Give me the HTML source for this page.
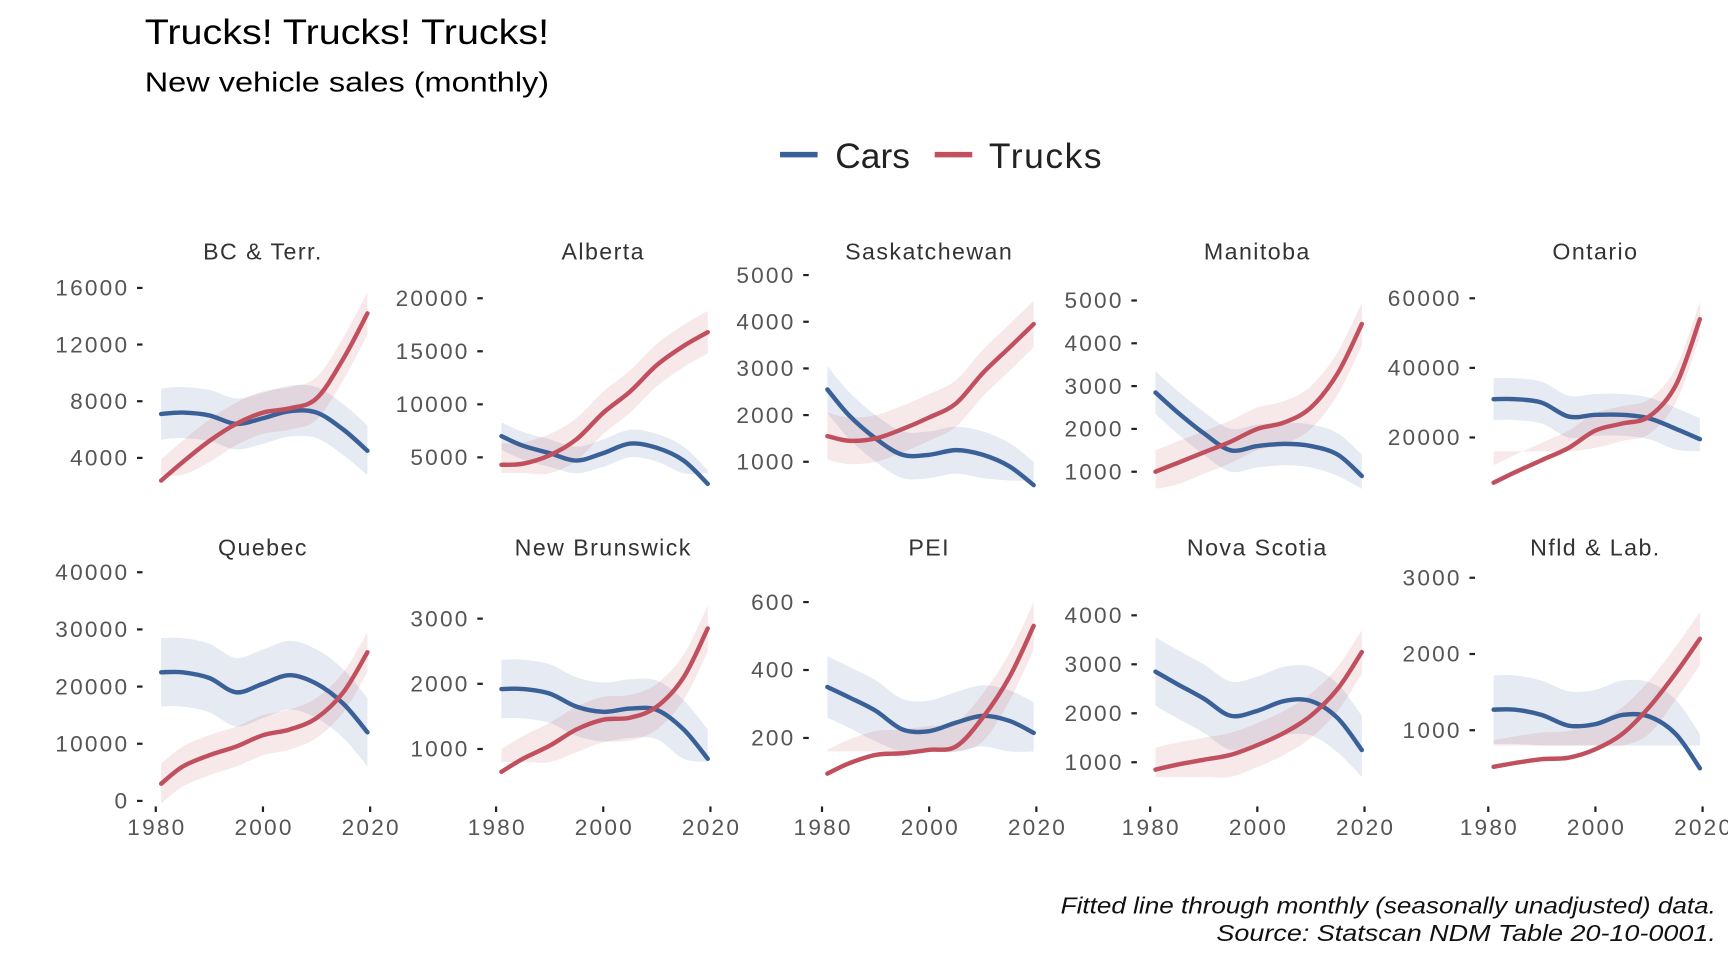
<!DOCTYPE html>
<html><head><meta charset="utf-8"><style>
html,body{margin:0;padding:0;background:#fff;}
svg{display:block;font-family:"Liberation Sans",sans-serif;}
</style></head><body>
<svg id="chart" width="1728" height="960" viewBox="0 0 1564 869" preserveAspectRatio="none" xmlns="http://www.w3.org/2000/svg">
<text x="131" y="40" font-size="32" fill="#000" textLength="366" lengthAdjust="spacingAndGlyphs">Trucks! Trucks! Trucks!</text>
<text x="131" y="83" font-size="25" fill="#000" textLength="366" lengthAdjust="spacingAndGlyphs">New vehicle sales (monthly)</text>
<g>
<g><line x1="706" y1="140" x2="740" y2="140" stroke="#3a6098" stroke-width="5"/><text x="756" y="152" font-size="32" fill="#222">Cars</text></g>
<g><line x1="846" y1="140" x2="880" y2="140" stroke="#c1505f" stroke-width="5"/><text x="895" y="152" font-size="32" fill="#222" textLength="102">Trucks</text></g>
</g>
<text x="1553" y="827" font-size="21" font-style="italic" text-anchor="end" fill="#111" textLength="593" lengthAdjust="spacingAndGlyphs">Fitted line through monthly (seasonally unadjusted) data.</text>
<text x="1553" y="852" font-size="21" font-style="italic" text-anchor="end" fill="#111" textLength="452" lengthAdjust="spacingAndGlyphs">Source: Statscan NDM Table 20-10-0001.</text>
<g id="panels"></g>
</svg>
<script>
const years = [1981,1985,1990,1995,2000,2005,2010,2015,2019.5];
const panelNames = ["BC & Terr.","Alberta","Saskatchewan","Manitoba","Ontario","Quebec","New Brunswick","PEI","Nova Scotia","Nfld & Lab."];
const carsValues = [
 [7100,7200,7000,6400,6800,7300,7200,6000,4500],
 [7000,6100,5400,4700,5400,6300,5900,4700,2500],
 [2550,2000,1500,1150,1150,1250,1150,900,500],
 [2850,2400,1900,1500,1600,1650,1600,1400,900],
 [31000,31000,30000,26000,26500,26500,25500,22500,19500],
 [22500,22500,21500,19000,20500,22000,20500,17000,12000],
 [1920,1920,1850,1650,1570,1620,1600,1300,850],
 [350,320,280,225,220,245,265,250,215],
 [2850,2600,2300,1950,2050,2250,2250,1900,1250],
 [1270,1270,1200,1060,1080,1200,1180,950,500]];
const trucksValues = [
 [2400,3700,5200,6400,7200,7500,8200,11000,14200],
 [4300,4400,5200,6700,9200,11200,13700,15500,16800],
 [1550,1450,1500,1700,1950,2250,2900,3450,3950],
 [1000,1200,1450,1700,2000,2150,2500,3300,4450],
 [7000,10000,13500,17000,22000,24000,26000,35000,54000],
 [3000,6000,8000,9500,11500,12500,14500,19000,26000],
 [650,850,1050,1300,1450,1480,1650,2100,2850],
 [95,125,150,155,165,175,260,380,530],
 [850,950,1050,1150,1350,1600,1950,2500,3250],
 [520,570,620,640,750,950,1300,1750,2200]];
const carsSpread = [1800,1300,500,500,6000,6000,450,90,700,450];
const trucksSpread = [1500,2000,500,500,5000,3500,350,70,450,350];
const yTicks = [
 [4000,8000,12000,16000],[5000,10000,15000,20000],[1000,2000,3000,4000,5000],[1000,2000,3000,4000,5000],[20000,40000,60000],
 [0,10000,20000,30000,40000],[1000,2000,3000],[200,400,600],[1000,2000,3000,4000],[1000,2000,3000]];
const xTicks = [1980,2000,2020];
const px0=[141,449,744,1041,1347];
const yCal=[
 [4000,414.5,16000,260.6],[5000,414,20000,270],[1000,418,5000,249],[1000,427,5000,272],[20000,396,60000,270],
 [0,725,40000,518],[1000,678,3000,560],[200,668,600,545],[1000,690,4000,557],[1000,661,3000,523]];
const W=194;
const NS="http://www.w3.org/2000/svg";
const root=document.getElementById('panels');
function mk(tag,attrs,parent){const e=document.createElementNS(NS,tag);for(const k in attrs)e.setAttribute(k,attrs[k]);parent.appendChild(e);return e;}
function spline(pts){let d=`M${pts[0][0]},${pts[0][1]}`;for(let i=0;i<pts.length-1;i++){const p0=pts[i-1]||pts[i],p1=pts[i],p2=pts[i+1],p3=pts[i+2]||p2;
 const c1=[p1[0]+(p2[0]-p0[0])/6,p1[1]+(p2[1]-p0[1])/6],c2=[p2[0]-(p3[0]-p1[0])/6,p2[1]-(p3[1]-p1[1])/6];
 d+=`C${c1[0]},${c1[1]} ${c2[0]},${c2[1]} ${p2[0]},${p2[1]}`;}return d;}
panelNames.forEach((name,i)=>{
 const row=Math.floor(i/5),col=i%5,x0=px0[col];
 const c=yCal[i];
 const xS=yr=>x0+(yr-1980)/40*W;
 const yS=v=>c[1]+(v-c[0])*(c[3]-c[1])/(c[2]-c[0]);
 const g=mk('g',{},root);
 
 
 const st=mk('text',{x:x0+W/2,y:row?503:235,'font-size':21,'text-anchor':'middle',fill:'#333','letter-spacing':1.3},g);
 st.textContent=name;
 
 
 yTicks[i].forEach(v=>{const y=yS(v);
  const tk=mk('line',{x1:x0-17,x2:x0-12,y1:y,y2:y,stroke:'#222','stroke-width':2},g);
  
  
  const t=mk('text',{x:x0-24,y:y+7,'font-size':20.5,'text-anchor':'end',fill:'#555','letter-spacing':2},g);t.textContent=v;
  
  });
 if(row===1){xTicks.forEach(yr=>{const x=xS(yr);
  const tk=mk('line',{x1:x,x2:x,y1:730,y2:735,stroke:'#222','stroke-width':2},g);
  
  
  const t=mk('text',{x:x+1,y:756,'font-size':20.5,'text-anchor':'middle',fill:'#555','letter-spacing':2},g);t.textContent=yr;
  
  });}
 [[carsValues[i],carsSpread[i],'#3a6098','cars'],[trucksValues[i],trucksSpread[i],'#c1505f','trucks']].forEach(([vals,sp,col,nm])=>{
  const up=years.map((yr,k)=>[xS(yr),yS(vals[k]+sp)]),lo=years.map((yr,k)=>[xS(yr),yS(Math.max(vals[k]-sp,c[0]-(c[2]-c[0])*0.1))]).reverse();
  const band=mk('path',{d:spline(up)+'L'+spline(lo).slice(1)+'Z',fill:col,opacity:0.13},g);
  
  
 });
 [[carsValues[i],'#3a6098','cars'],[trucksValues[i],'#c1505f','trucks']].forEach(([vals,col,nm])=>{
  const p=mk('path',{d:spline(years.map((yr,k)=>[xS(yr),yS(vals[k])])),fill:'none',stroke:col,'stroke-width':4,'stroke-linecap':'round'},g);
  
  
 });
});
</script>
</body></html>
